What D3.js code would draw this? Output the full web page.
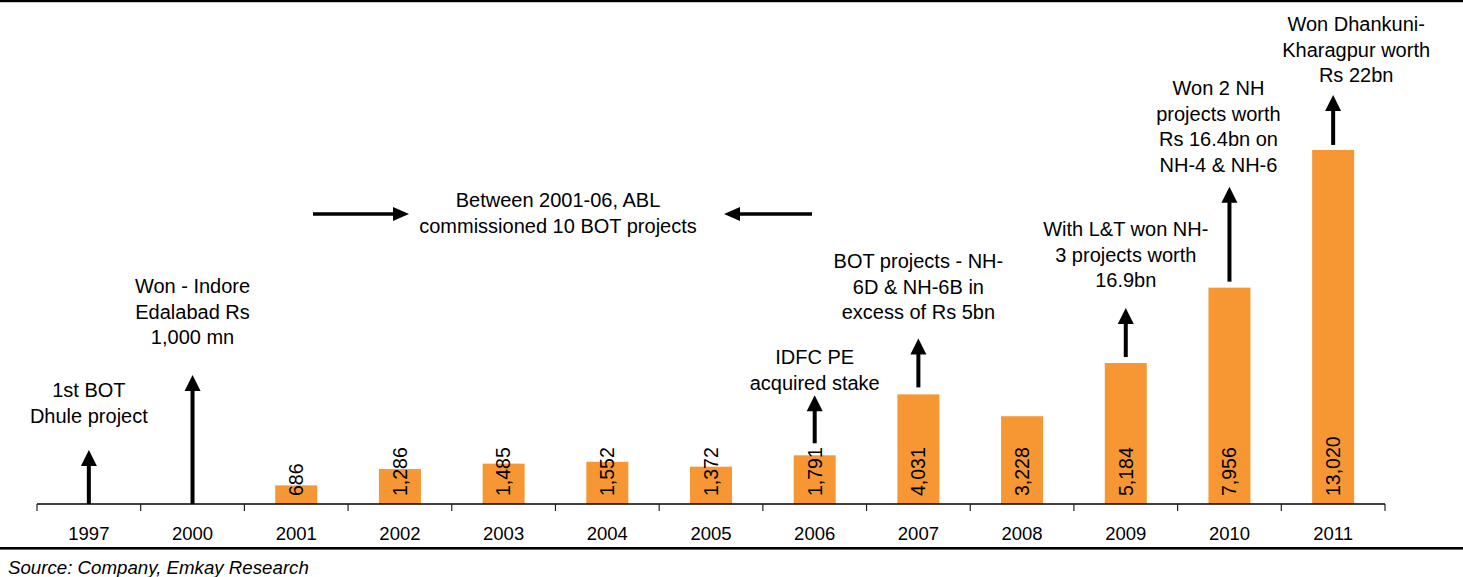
<!DOCTYPE html>
<html>
<head>
<meta charset="utf-8">
<script src="https://cdn.jsdelivr.net/npm/d3@7"></script>
<style>
  html, body { margin: 0; padding: 0; background: #fff; }
  svg { display: block; font-family: "Liberation Sans", Arial, Helvetica, sans-serif; }
</style>
</head>
<body>
<svg id="chart" width="1463" height="577"></svg>
<script>
// Order book / project milestones, Rs mn
const categories = ["1997", "2000", "2001", "2002", "2003", "2004", "2005", "2006", "2007", "2008", "2009", "2010", "2011"];
const values = [null, null, 686, 1286, 1485, 1552, 1372, 1791, 4031, 3228, 5184, 7956, 13020];

// Milestone notes per year
const noteYears = ["1997", "2000", "2006", "2007", "2009", "2010", "2011"];
const noteTexts = [
  ["1st BOT", "Dhule project"],
  ["Won - Indore", "Edalabad Rs", "1,000 mn"],
  ["IDFC PE", "acquired stake"],
  ["BOT projects - NH-", "6D & NH-6B in", "excess of Rs 5bn"],
  ["With L&T won NH-", "3 projects worth", "16.9bn"],
  ["Won 2 NH", "projects worth", "Rs 16.4bn on", "NH-4 & NH-6"],
  ["Won Dhankuni-", "Kharagpur worth", "Rs 22bn"]
];
const periodNote = ["Between 2001-06, ABL", "commissioned 10 BOT projects"];
const sourceText = "Source: Company, Emkay Research";

// Layout for the notes: gap above bar, arrow length, first text baseline, text x shift
const noteGap = [0, 0, 12, 7, 6, 6, 5];
const noteArrowLen = [54, 129, 48, 49, 49, 95, 50];
const noteTextTop = [397, 293, 364, 268, 236, 95, 31];
const noteShift = [0, 0, 0, 0, 0, -11, 23];

const W = 1463, H = 577;
const svg = d3.select("#chart");
const barColor = "#F79733";
const lineH = 25.5;
const noteSize = 20;

const x = d3.scaleBand().domain(categories).range([37, 1385]).padding(0);
const xBar = d3.scaleBand().domain(categories).range([37, 1385])
  .paddingInner(0.595).paddingOuter(0.2975);
const y = d3.scaleLinear().domain([0, 14000]).range([504, 123.3]);

// Frame rules
svg.append("rect").attr("x", 0).attr("y", 0).attr("width", W).attr("height", 2.2).attr("fill", "#000");
svg.append("rect").attr("x", 0).attr("y", 547).attr("width", W).attr("height", 2.6).attr("fill", "#000");

// Bars
const data = categories.map((c, i) => ({ c, v: values[i] }));
svg.append("g").selectAll("rect")
  .data(data.filter(d => d.v != null))
  .join("rect")
  .attr("x", d => xBar(d.c))
  .attr("y", d => y(d.v))
  .attr("width", xBar.bandwidth())
  .attr("height", d => y(0) - y(d.v))
  .attr("fill", barColor);

// Value labels, rotated inside the bars
const fmt = d3.format(",");
svg.append("g").selectAll("text")
  .data(data.filter(d => d.v != null))
  .join("text")
  .attr("transform", d => `translate(${x(d.c) + x.bandwidth() / 2},${y(0) - 8}) rotate(-90)`)
  .attr("dy", "0.35em")
  .attr("text-anchor", "start")
  .attr("font-size", 19.5)
  .attr("fill", "#000")
  .text(d => fmt(d.v));

// Category axis
const axis = svg.append("g").attr("transform", `translate(0,${y(0)})`)
  .call(d3.axisBottom(x).tickSize(0).tickPadding(0));
axis.select(".domain").remove();
axis.selectAll("text")
  .attr("y", 36).attr("dy", 0)
  .attr("font-size", 18.5)
  .attr("font-family", "Liberation Sans, Arial, sans-serif")
  .attr("fill", "#000");
axis.append("line")
  .attr("x1", x.range()[0]).attr("x2", x.range()[1])
  .attr("y1", 0).attr("y2", 0)
  .attr("stroke", "#000").attr("stroke-width", 1.5);
const edges = categories.map(c => x(c)).concat([x.range()[1]]);
axis.selectAll("line.edge")
  .data(edges)
  .join("line")
  .attr("class", "edge")
  .attr("x1", d => d).attr("x2", d => d)
  .attr("y1", 0).attr("y2", 7)
  .attr("stroke", "#222").attr("stroke-width", 1.2);

// Arrow helpers
function upArrow(g, cx, base, tip) {
  const hw = 8, hh = 16;
  g.append("line")
    .attr("x1", cx).attr("x2", cx)
    .attr("y1", base).attr("y2", tip + hh - 1)
    .attr("stroke", "#000").attr("stroke-width", 4);
  g.append("path")
    .attr("d", `M${cx},${tip} L${cx + hw},${tip + hh} L${cx - hw},${tip + hh} Z`)
    .attr("fill", "#000");
}
function hArrow(g, from, to, yy) {
  const dir = Math.sign(to - from), hl = 16, hw = 7;
  g.append("line")
    .attr("x1", from).attr("x2", to - dir * (hl - 1))
    .attr("y1", yy).attr("y2", yy)
    .attr("stroke", "#000").attr("stroke-width", 3.5);
  g.append("path")
    .attr("d", `M${to},${yy} L${to - dir * hl},${yy - hw} L${to - dir * hl},${yy + hw} Z`)
    .attr("fill", "#000");
}

// Milestone notes
const notes = svg.append("g");
noteYears.forEach((yr, i) => {
  const cx = x(yr) + x.bandwidth() / 2;
  const v = values[categories.indexOf(yr)];
  const base = (v == null ? y(0) : y(v)) - noteGap[i];
  const tip = base - noteArrowLen[i];
  upArrow(notes, cx, base, tip);
  const t = notes.append("text")
    .attr("text-anchor", "middle")
    .attr("font-size", noteSize)
    .attr("fill", "#000");
  noteTexts[i].forEach((line, j) => {
    t.append("tspan")
      .attr("x", cx + noteShift[i])
      .attr("y", noteTextTop[i] + j * lineH)
      .text(line);
  });
});

// Period note with converging arrows
const pt = notes.append("text")
  .attr("text-anchor", "middle")
  .attr("font-size", noteSize)
  .attr("fill", "#000");
periodNote.forEach((line, j) => {
  pt.append("tspan").attr("x", 558).attr("y", 207 + j * lineH).text(line);
});
hArrow(notes, 313, 409, 214);
hArrow(notes, 812, 724, 214);

// Source line
svg.append("text")
  .attr("x", 8).attr("y", 574)
  .attr("font-size", 18.7)
  .attr("font-style", "italic")
  .attr("fill", "#000")
  .text(sourceText);
</script>
</body>
</html>
